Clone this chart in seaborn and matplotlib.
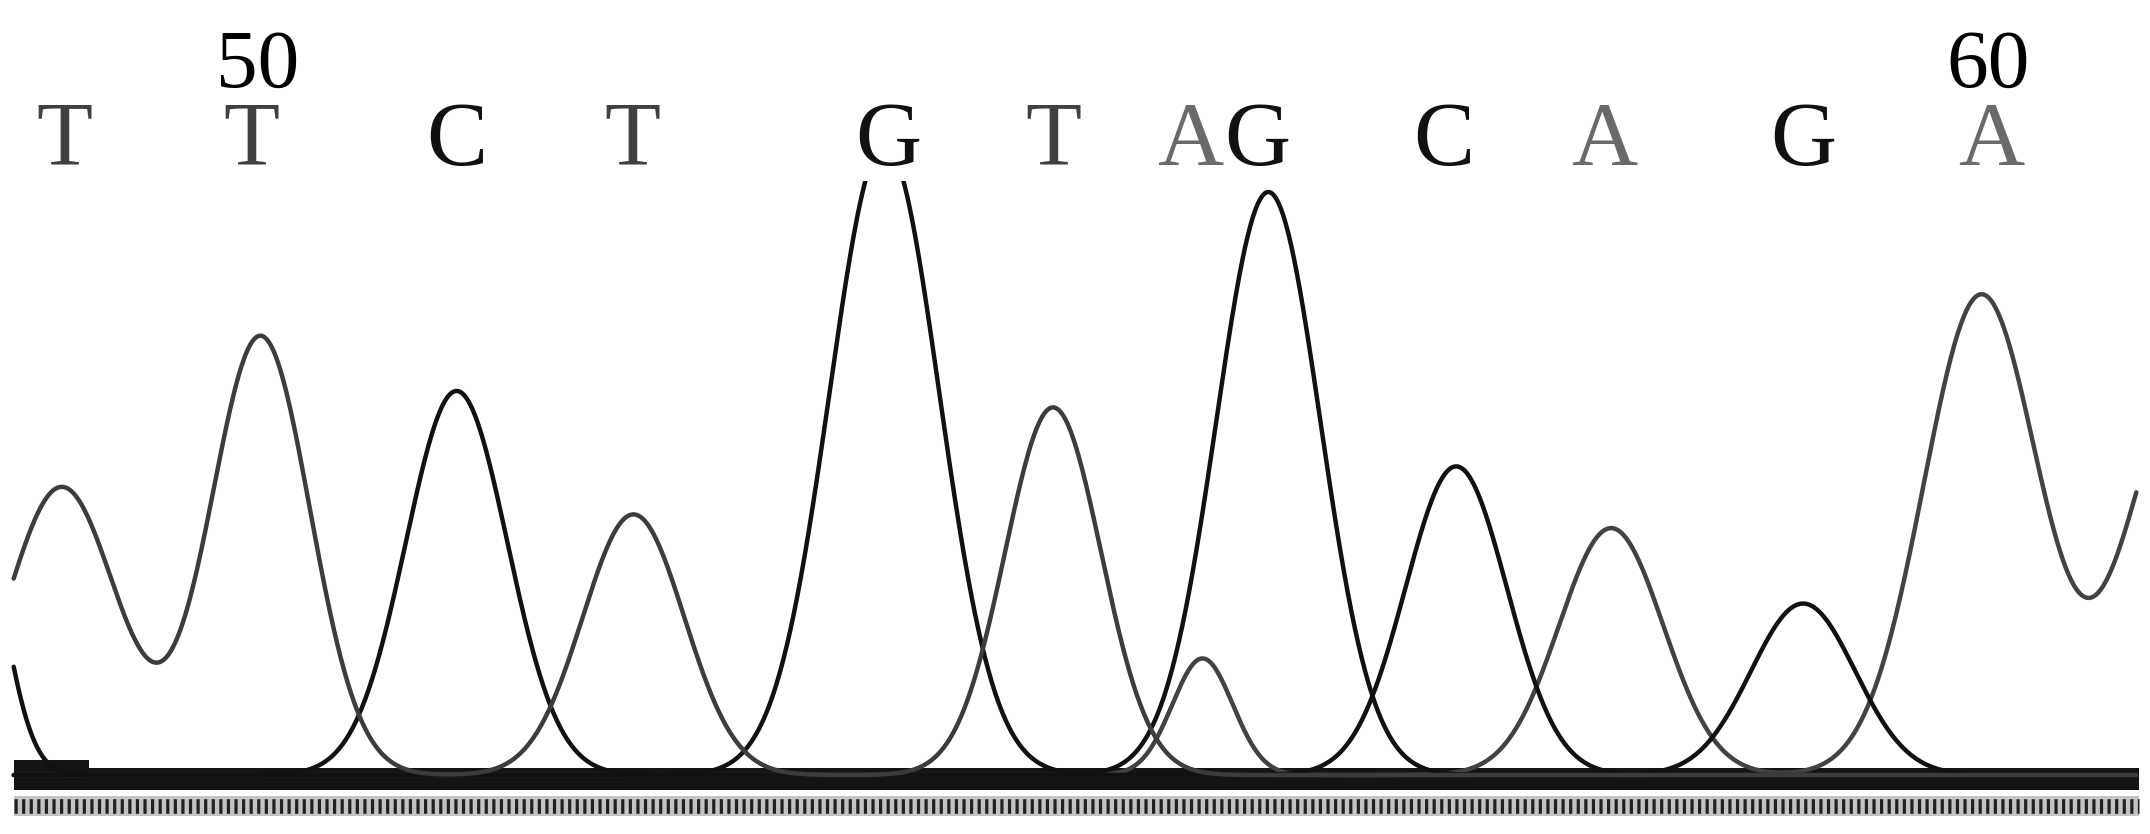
import numpy as np
import pandas as pd
import matplotlib
matplotlib.use("Agg")
import matplotlib.pyplot as plt
import seaborn as sns

# peaks (scan position, height, width), one per base signal
peak_base = ['C', 'T', 'T', 'C', 'T', 'G', 'T', 'A', 'G', 'C', 'A', 'G', 'A', 'A']
peak_scan = [-20, 45, 190, 333, 462, 645, 768, 877, 925, 1062, 1175, 1315, 1445, 1595]
peak_height = [200, 210, 320, 280, 190, 460, 268, 85, 425, 225, 180, 125, 350, 290]
peak_width = [22, 40, 36, 37, 37, 40, 35, 22, 38, 37, 38, 38, 42, 42]

# base calls printed above the trace
call_base = ['T', 'T', 'C', 'T', 'G', 'T', 'A', 'G', 'C', 'A', 'G', 'A']
call_scan = [47, 183, 333, 461, 648, 768, 868, 917, 1053, 1170, 1315, 1452]
pos_labels = ['50', '60']
pos_scan = [188, 1450]

trace_colors = {'A': '#424242', 'C': '#111111', 'G': '#111111', 'T': '#3c3c3c'}
letter_colors = {'A': '#6a6a6a', 'C': '#111111', 'G': '#111111', 'T': '#404040'}

scan = np.linspace(10, 1558, 2500)
rows = []
for b in ['A', 'C', 'G', 'T']:
    sig = np.zeros_like(scan)
    for pb, c, h, w in zip(peak_base, peak_scan, peak_height, peak_width):
        if pb == b:
            sig += h * np.exp(-(scan - c) ** 2 / (2 * w ** 2))
    rows.append(pd.DataFrame({'scan': scan, 'signal': sig, 'base': b}))
df = pd.concat(rows, ignore_index=True)

sns.set_theme(style="white")
plt.rcParams['font.family'] = ['Liberation Serif', 'DejaVu Serif']

fig = plt.figure(figsize=(21.5, 8.34), dpi=100)
ax = fig.add_axes([0, 0, 1, 476 / 608])
ax.set_xlim(0, 1568)
ax.set_ylim(-43, 433)
ax.axis('off')

# baseline band (with the small step at the start) and the dotted scan ruler
ax.fill_between([10, 1560], -11, 5, color='#141414', lw=0, zorder=1)
ax.fill_between([10, 65], -11, 11, color='#141414', lw=0, zorder=1)
ax.fill_between([10, 1560], -30, -15, color='#c4c4c4', lw=0, zorder=1)
ax.hlines(-22.5, 10, 1560, color='#222222', linewidth=10.5,
          linestyles=(0, (0.22, 0.3)), zorder=2)

sns.lineplot(data=df, x='scan', y='signal', hue='base', palette=trace_colors,
             estimator=None, sort=False, linewidth=3.2, legend=False, ax=ax,
             zorder=3)

for b, x in zip(call_base, call_scan):
    ax.text(x, 445, b, ha='center', va='baseline', fontsize=66,
            color=letter_colors[b], clip_on=False)
for t, x in zip(pos_labels, pos_scan):
    ax.text(x, 502, t, ha='center', va='baseline', fontsize=60,
            color='black', clip_on=False)

fig.savefig('out.png', dpi=100, facecolor='white')
